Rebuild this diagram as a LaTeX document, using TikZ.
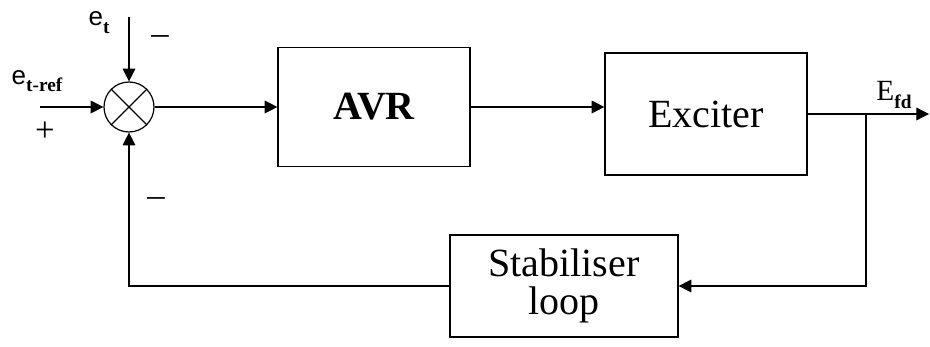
\documentclass[tikz,border=0pt]{standalone}
\usepackage{fontspec}
\setmainfont{Liberation Serif}
\setsansfont{Liberation Sans}
\usetikzlibrary{arrows.meta,positioning}
\newcommand{\lowsub}[1]{\raisebox{-0.3em}{\fontsize{14.5}{14.5}\selectfont\rmfamily\bfseries #1}}

\begin{document}
\begin{tikzpicture}[x=0.75pt,y=-0.75pt,line width=0.9pt,
      blk/.style={draw,align=center,font=\fontsize{30}{28.5}\selectfont},
      a/.style={-{Triangle[length=9.5pt,width=9.5pt]}},
      lbl/.style={inner sep=0pt,font=\fontsize{26}{26}\selectfont}]
  \useasboundingbox (0,0) rectangle (930,346);
  % blocks
  \node[circle,draw,minimum size=37.5pt,inner sep=0pt] (sum) at (129,107) {};
  \draw (sum.north west)--(sum.south east) (sum.north east)--(sum.south west);
  \node[blk,minimum width=144pt,minimum height=89pt,
    font=\fontsize{30}{30}\selectfont\bfseries] (avr) at (374,107) {AVR};
  \node[blk,minimum width=151.5pt,minimum height=91.5pt] (exc) at (706,114) {Exciter};
  \node[blk,minimum width=171pt,minimum height=76.5pt] (stab) at (564,286)
    {Stabiliser\\loop};
  % signal labels
  \node[lbl,font=\fontsize{19.5}{19.5}\selectfont\sffamily] (et) at (99,23) {e\lowsub{t}};
  \node[lbl,font=\fontsize{19.5}{19.5}\selectfont\sffamily] (etref) at (37,81) {e\lowsub{t-ref}};
  \node[lbl] (plus) at (45,132) {+};
  \node[lbl] (mtop) at (160,40) {\textendash};
  \node[lbl] (mbot) at (156,202) {\textendash};
  \node[lbl,font=\fontsize{22}{22}\selectfont] (efd) at (894,95) {E\lowsub{fd}};
  % connectors
  \coordinate (etin) at (129,17);
  \coordinate (refin) at (40,107);
  \coordinate (br) at (866,114);
  \coordinate (out) at (929,114);
  \draw[a] (etin)--(sum);
  \draw[a] (refin)--(sum);
  \draw[a] (sum)--(avr);
  \draw[a] (avr.east)--(avr.east -| exc.west);
  \draw (exc.east)--(br);
  \draw[a] (br)--(out);
  \draw[a] (br)|-(stab.east);
  \draw[a] (stab.west)-|(sum);
\end{tikzpicture}
\end{document}
